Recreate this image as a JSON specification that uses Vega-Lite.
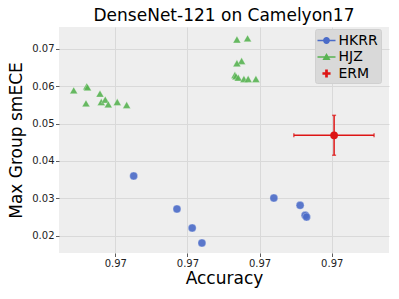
{
  "$schema": "https://vega.github.io/schema/vega-lite/v6.json",
  "width": 330,
  "height": 226,
  "autosize": {"type": "none"},
  "padding": {"left": 59, "top": 27, "right": 10, "bottom": 46},
  "background": "white",
  "config": {
    "font": "DejaVu Sans",
    "view": {"fill": "#eeeeee", "stroke": null},
    "axis": {
      "domain": false,
      "grid": true,
      "gridColor": "#d9d9d9",
      "gridWidth": 1,
      "tickSize": 3.5,
      "tickColor": "#333333",
      "tickWidth": 0.8,
      "labelFontSize": 10,
      "labelColor": "#222222",
      "labelPadding": 1.5,
      "titleFontSize": 17,
      "titleFontWeight": "normal",
      "titleColor": "black"
    },
    "legend": {
      "title": null,
      "orient": "none",
      "legendX": 256,
      "legendY": 2,
      "fillColor": "#d9d9d9",
      "strokeColor": "#d0d0d0",
      "cornerRadius": 2,
      "padding": 2.5,
      "labelFontSize": 14,
      "labelColor": "black",
      "labelOffset": 3,
      "rowPadding": 0.5,
      "symbolSize": 324,
      "symbolStrokeWidth": 0,
      "symbolOpacity": 1
    }
  },
  "title": {
    "text": "DenseNet-121 on Camelyon17",
    "fontSize": 17,
    "fontWeight": "normal",
    "anchor": "middle",
    "color": "black",
    "offset": 2
  },
  "datasets": {
    "pts": [
      {"method": "HKRR", "acc": 0.968255, "ece": 0.03597},
      {"method": "HKRR", "acc": 0.968855, "ece": 0.02713},
      {"method": "HKRR", "acc": 0.969066, "ece": 0.02204},
      {"method": "HKRR", "acc": 0.969201, "ece": 0.01802},
      {"method": "HKRR", "acc": 0.970198, "ece": 0.03007},
      {"method": "HKRR", "acc": 0.970562, "ece": 0.02812},
      {"method": "HKRR", "acc": 0.970632, "ece": 0.02544},
      {"method": "HKRR", "acc": 0.970651, "ece": 0.02498},
      {"method": "HJZ", "acc": 0.967424, "ece": 0.05893},
      {"method": "HJZ", "acc": 0.967594, "ece": 0.05544},
      {"method": "HJZ", "acc": 0.967604, "ece": 0.06},
      {"method": "HJZ", "acc": 0.967615, "ece": 0.05973},
      {"method": "HJZ", "acc": 0.967788, "ece": 0.05804},
      {"method": "HJZ", "acc": 0.967806, "ece": 0.05579},
      {"method": "HJZ", "acc": 0.967861, "ece": 0.05643},
      {"method": "HJZ", "acc": 0.967903, "ece": 0.05517},
      {"method": "HJZ", "acc": 0.968028, "ece": 0.05579},
      {"method": "HJZ", "acc": 0.968158, "ece": 0.05499},
      {"method": "HJZ", "acc": 0.969686, "ece": 0.07255},
      {"method": "HJZ", "acc": 0.969834, "ece": 0.07285},
      {"method": "HJZ", "acc": 0.969751, "ece": 0.06678},
      {"method": "HJZ", "acc": 0.969686, "ece": 0.06617},
      {"method": "HJZ", "acc": 0.969658, "ece": 0.06303},
      {"method": "HJZ", "acc": 0.969672, "ece": 0.06268},
      {"method": "HJZ", "acc": 0.969704, "ece": 0.06233},
      {"method": "HJZ", "acc": 0.969783, "ece": 0.06196},
      {"method": "HJZ", "acc": 0.969842, "ece": 0.06196},
      {"method": "HJZ", "acc": 0.969949, "ece": 0.06196},
      {"method": "ERM", "acc": 0.971033, "ece": 0.04686}
    ],
    "erm": [
      {"method": "ERM", "acc": 0.971033, "ece": 0.04686, "acc_lo": 0.970475, "acc_hi": 0.971587, "ece_lo": 0.04153, "ece_hi": 0.05222}
    ]
  },
  "encoding": {
    "x": {
      "field": "acc",
      "type": "quantitative",
      "title": "Accuracy",
      "scale": {"domain": [0.96722, 0.971794], "nice": false, "zero": false},
      "axis": {"values": [0.968, 0.969, 0.970, 0.971], "format": ".2f", "titlePadding": 2}
    },
    "y": {
      "field": "ece",
      "type": "quantitative",
      "title": "Max Group smECE",
      "scale": {"domain": [0.01534, 0.07589], "nice": false, "zero": false},
      "axis": {"values": [0.02, 0.03, 0.04, 0.05, 0.06, 0.07], "format": ".2f", "titlePadding": 6}
    }
  },
  "layer": [
    {
      "data": {"name": "erm"},
      "mark": {"type": "rule", "color": "#dd1515", "strokeWidth": 1.5},
      "encoding": {"x": {"field": "acc_lo", "type": "quantitative"}, "x2": {"field": "acc_hi"}}
    },
    {
      "data": {"name": "erm"},
      "mark": {"type": "rule", "color": "#dd1515", "strokeWidth": 1.5},
      "encoding": {"y": {"field": "ece_lo", "type": "quantitative"}, "y2": {"field": "ece_hi"}}
    },
    {
      "data": {"name": "erm"},
      "mark": {"type": "tick", "orient": "vertical", "color": "#dd1515", "size": 4, "thickness": 1.5},
      "encoding": {"x": {"field": "acc_lo", "type": "quantitative"}}
    },
    {
      "data": {"name": "erm"},
      "mark": {"type": "tick", "orient": "vertical", "color": "#dd1515", "size": 4, "thickness": 1.5},
      "encoding": {"x": {"field": "acc_hi", "type": "quantitative"}}
    },
    {
      "data": {"name": "erm"},
      "mark": {"type": "tick", "orient": "horizontal", "color": "#dd1515", "size": 4, "thickness": 1.5},
      "encoding": {"y": {"field": "ece_lo", "type": "quantitative"}}
    },
    {
      "data": {"name": "erm"},
      "mark": {"type": "tick", "orient": "horizontal", "color": "#dd1515", "size": 4, "thickness": 1.5},
      "encoding": {"y": {"field": "ece_hi", "type": "quantitative"}}
    },
    {
      "data": {"name": "pts"},
      "transform": [{"filter": "datum.method === 'HJZ'"}],
      "mark": {"type": "point", "shape": "triangle-up", "filled": true, "opacity": 0.9, "size": 62, "color": "#58b352", "stroke": "white", "strokeWidth": 0.3},
      "encoding": {}
    },
    {
      "data": {"name": "pts"},
      "transform": [{"filter": "datum.method === 'HKRR'"}],
      "mark": {"type": "point", "shape": "circle", "filled": true, "opacity": 0.9, "size": 64, "color": "#4a6bc8", "stroke": "white", "strokeWidth": 0.3},
      "encoding": {}
    },
    {
      "data": {"name": "pts"},
      "transform": [{"filter": "datum.method === 'ERM'"}],
      "mark": {"type": "point", "shape": "circle", "filled": true, "opacity": 1, "size": 60, "color": "#dd1515"},
      "encoding": {}
    },
    {
      "data": {"name": "pts"},
      "mark": {"type": "point", "filled": true, "opacity": 0},
      "encoding": {
        "color": {
          "field": "method", "type": "nominal",
          "scale": {"domain": ["HKRR", "HJZ", "ERM"], "range": ["#4a6bc8", "#58b352", "#dd1515"]}
        },
        "shape": {
          "field": "method", "type": "nominal",
          "scale": {"domain": ["HKRR", "HJZ", "ERM"], "range": [
            "M-1,-0.07L1,-0.07L1,0.07L-1,0.07Z M-0.38,0 A0.38,0.38 0 1,1 0.38,0 A0.38,0.38 0 1,1 -0.38,0 Z",
            "M-1,-0.07L1,-0.07L1,0.07L-1,0.07Z M0,-0.45 L0.45,0.32 L-0.45,0.32 Z",
            "M-0.15,-0.45H0.15V-0.15H0.45V0.15H0.15V0.45H-0.15V0.15H-0.45V-0.15H-0.15Z"
          ]}
        }
      }
    }
  ]
}
